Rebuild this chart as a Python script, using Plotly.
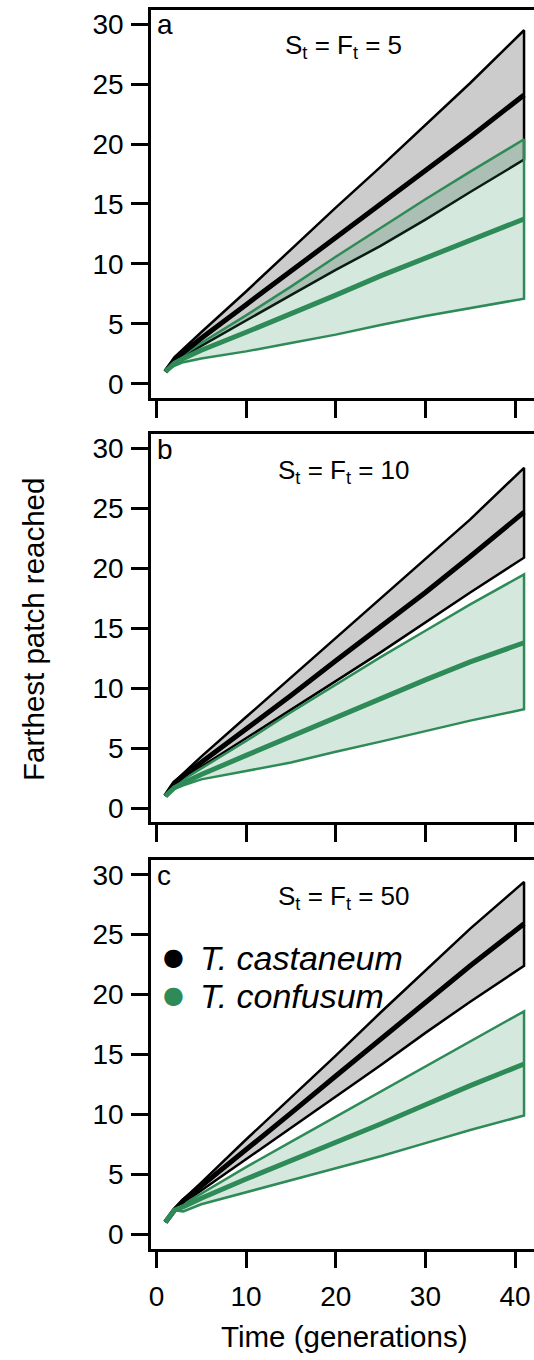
import plotly.graph_objects as go

# ---------------- data ----------------
gens = [1, 2, 3, 5, 10, 15, 20, 25, 30, 35, 41]

# panel a: S_t = F_t = 5
a_cast_upper = [1, 2.2, 2.9, 4.3, 7.7, 11.2, 14.7, 18.1, 21.6, 25.1, 29.5]
a_cast_mean = [1, 2.0, 2.6, 3.8, 6.6, 9.4, 12.2, 14.9, 17.7, 20.6, 24.1]
a_cast_lower = [1, 1.8, 2.3, 3.2, 5.3, 7.4, 9.5, 11.5, 13.7, 16.0, 18.7]
a_conf_upper = [1, 1.9, 2.4, 3.4, 5.7, 8.1, 10.6, 13.0, 15.4, 17.7, 20.4]
a_conf_mean = [1, 1.7, 2.1, 2.8, 4.3, 5.8, 7.4, 9.0, 10.5, 12.0, 13.75]
a_conf_lower = [1, 1.5, 1.8, 2.1, 2.7, 3.4, 4.1, 4.9, 5.65, 6.3, 7.1]

# panel b: S_t = F_t = 10
b_cast_upper = [1, 2.2, 2.9, 4.3, 7.6, 10.9, 14.2, 17.5, 20.8, 24.1, 28.4]
b_cast_mean = [1, 2.1, 2.7, 3.8, 6.6, 9.4, 12.3, 15.1, 18.0, 21.0, 24.7]
b_cast_lower = [1, 1.9, 2.5, 3.4, 5.8, 8.2, 10.6, 13.0, 15.5, 18.0, 20.9]
b_conf_upper = [1, 1.9, 2.4, 3.3, 5.6, 8.0, 10.3, 12.6, 14.8, 17.0, 19.5]
b_conf_mean = [1, 1.7, 2.1, 2.8, 4.4, 6.0, 7.6, 9.2, 10.7, 12.2, 13.8]
b_conf_lower = [1, 1.6, 1.9, 2.4, 3.1, 3.8, 4.7, 5.55, 6.4, 7.3, 8.25]

# panel c: S_t = F_t = 50
c_cast_upper = [1, 2.0, 2.9, 4.3, 7.9, 11.4, 14.9, 18.5, 22.0, 25.5, 29.4]
c_cast_mean = [1, 2.0, 2.8, 4.0, 7.1, 10.1, 13.2, 16.3, 19.4, 22.4, 25.9]
c_cast_lower = [1, 2.0, 2.6, 3.7, 6.3, 8.9, 11.5, 14.1, 16.8, 19.4, 22.4]
c_conf_upper = [1, 2.0, 2.5, 3.4, 5.6, 7.7, 9.8, 11.9, 14.0, 16.1, 18.6]
c_conf_mean = [1, 2.0, 2.3, 3.0, 4.6, 6.1, 7.7, 9.2, 10.8, 12.4, 14.2]
c_conf_lower = [1, 2.0, 1.9, 2.5, 3.5, 4.5, 5.5, 6.5, 7.6, 8.7, 9.9]

panel_letters = ["a", "b", "c"]
panel_titles = ["S<sub>t</sub> = F<sub>t</sub> = 5",
                "S<sub>t</sub> = F<sub>t</sub> = 10",
                "S<sub>t</sub> = F<sub>t</sub> = 50"]
species = ["T. castaneum", "T. confusum"]
y_ticks = [0, 5, 10, 15, 20, 25, 30]
x_ticks = [0, 10, 20, 30, 40]
x_title = "Time (generations)"
y_title = "Farthest patch reached"

panels = [
    (a_cast_upper, a_cast_mean, a_cast_lower, a_conf_upper, a_conf_mean, a_conf_lower),
    (b_cast_upper, b_cast_mean, b_cast_lower, b_conf_upper, b_conf_mean, b_conf_lower),
    (c_cast_upper, c_cast_mean, c_cast_lower, c_conf_upper, c_conf_mean, c_conf_lower),
]

# ---------------- style / layout ----------------
W, H = 534, 1360
FONT = "Liberation Sans, Arial, Helvetica, sans-serif"
BLACK = "#000000"
GREEN = "#2E8B57"
GREY_FILL = "rgba(0,0,0,0.2)"
GREEN_FILL = "rgba(46,139,87,0.2)"

# pixel extents of plot panels (top, bottom)
panel_px = [(8.9, 397.7), (433.9, 822.7), (860.6, 1249.4)]
x_left_px = 149.6
x_unit_px = 9.0
x0_data = -0.6
x1_data = x0_data + (W - x_left_px) / x_unit_px

fig = go.Figure()
layout = dict(
    width=W, height=H,
    margin=dict(l=0, r=0, t=0, b=0),
    paper_bgcolor="white", plot_bgcolor="white",
    showlegend=False,
    font=dict(family=FONT, color="black", size=28),
)

annotations = []
for i, (cu, cm, cl, fu, fm, fl) in enumerate(panels):
    xa = "x" if i == 0 else f"x{i+1}"
    ya = "y" if i == 0 else f"y{i+1}"
    top, bot = panel_px[i]

    poly_x = gens + gens[::-1]
    fig.add_trace(go.Scatter(x=poly_x, y=cu + cl[::-1], fill="toself",
                             fillcolor=GREY_FILL, mode="lines",
                             line=dict(color=BLACK, width=2.5),
                             xaxis=xa, yaxis=ya, hoverinfo="skip"))
    fig.add_trace(go.Scatter(x=poly_x, y=fu + fl[::-1], fill="toself",
                             fillcolor=GREEN_FILL, mode="lines",
                             line=dict(color=GREEN, width=2.5),
                             xaxis=xa, yaxis=ya, hoverinfo="skip"))
    fig.add_trace(go.Scatter(x=gens, y=cm, mode="lines",
                             line=dict(color=BLACK, width=5),
                             xaxis=xa, yaxis=ya, hoverinfo="skip"))
    fig.add_trace(go.Scatter(x=gens, y=fm, mode="lines",
                             line=dict(color=GREEN, width=5),
                             xaxis=xa, yaxis=ya, hoverinfo="skip"))

    xkey = "xaxis" if i == 0 else f"xaxis{i+1}"
    ykey = "yaxis" if i == 0 else f"yaxis{i+1}"
    layout[xkey] = dict(
        domain=[x_left_px / W, 1], range=[x0_data, x1_data],
        anchor=ya, showgrid=False, zeroline=False,
        showline=True, mirror=True, linecolor="black", linewidth=2.6,
        ticks="outside", ticklen=17, tickwidth=2.6, tickcolor="black",
        tickvals=x_ticks, ticktext=[str(v) for v in x_ticks],
        showticklabels=(i == 2), ticklabelstandoff=4,
        tickfont=dict(size=28, family=FONT),
    )
    layout[ykey] = dict(
        domain=[1 - bot / H, 1 - top / H], range=[-1.2, 31.2],
        anchor=xa, showgrid=False, zeroline=False,
        showline=True, linecolor="black", linewidth=2.6,
        ticks="outside", ticklen=17, tickwidth=2.6, tickcolor="black",
        tickvals=y_ticks, ticktext=[str(v) for v in y_ticks],
        ticklabelstandoff=2,
        tickfont=dict(size=28, family=FONT),
    )

    # panel letter
    annotations.append(dict(x=154 / W, y=1 - (top + 15) / H, xref="paper", yref="paper",
                            text=panel_letters[i], showarrow=False,
                            xanchor="left", yanchor="middle",
                            font=dict(size=28, family=FONT)))
    # panel title
    annotations.append(dict(x=343 / W, y=1 - (top + 37) / H, xref="paper", yref="paper",
                            text=panel_titles[i], showarrow=False,
                            xanchor="center", yanchor="middle",
                            font=dict(size=26, family=FONT)))

# legend (panel c)
leg_y = [957.7, 995.0]
leg_col = [BLACK, GREEN]
for name, yy, col in zip(species, leg_y, leg_col):
    annotations.append(dict(x=172 / W, y=1 - yy / H, xref="paper", yref="paper",
                            text="●", showarrow=False, xanchor="center", yanchor="middle",
                            font=dict(size=24, family="DejaVu Sans", color=col)))
    annotations.append(dict(x=197 / W, y=1 - (yy + 1) / H, xref="paper", yref="paper",
                            text=f"<i>{name}</i>", showarrow=False,
                            xanchor="left", yanchor="middle",
                            font=dict(size=34, family=FONT, color="black")))

# axis titles
annotations.append(dict(x=343 / W, y=1 - 1337 / H, xref="paper", yref="paper",
                        text=x_title, showarrow=False, xanchor="center", yanchor="middle",
                        font=dict(size=29.5, family=FONT)))
annotations.append(dict(x=31 / W, y=1 - 629 / H, xref="paper", yref="paper",
                        text=y_title, showarrow=False, xanchor="center", yanchor="middle",
                        textangle=-90, font=dict(size=29.5, family=FONT)))

layout["annotations"] = annotations
fig.update_layout(**layout)
fig.write_html("out.html")
